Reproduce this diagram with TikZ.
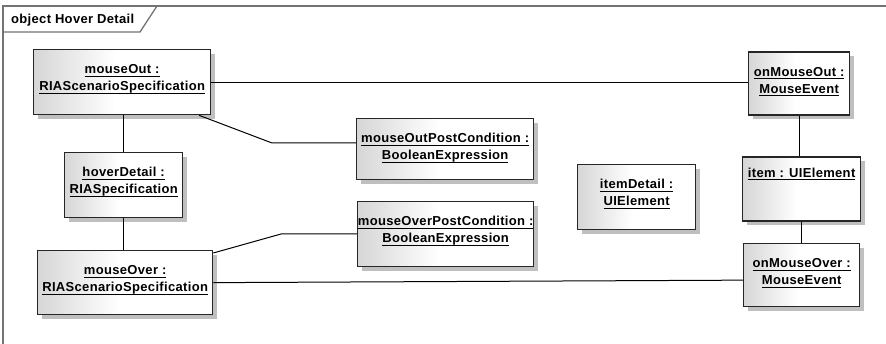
\documentclass[tikz,border=0pt]{standalone}
\usepackage{fontspec}
\setmainfont{Liberation Sans}[LetterSpace=2.5]
\usetikzlibrary{calc,shadows}
\pgfdeclarehorizontalshading{boxshade}{100bp}{color(0bp)=(black!16); color(25bp)=(black!16); color(48bp)=(white); color(100bp)=(white)}
\newcommand\ulx[1]{\setbox0=\hbox{#1}\rlap{\rule[-2.6pt]{\wd0}{1pt}}\box0}
\tikzset{
  obj/.style={draw=black!85, line width=1.3pt, shading=boxshade, rectangle, anchor=north west, inner sep=0pt,
    drop shadow={shadow xshift=4pt, shadow yshift=-4pt, fill=black!25, opacity=1}},
  lbl/.style={anchor=base, inner sep=0pt, font=\fontsize{13}{17}\selectfont\bfseries},
  conn/.style={draw=black, line width=1pt},
  frame/.style={draw=black!55, line width=1.3pt}
}
\newcommand\twoline[2]{\begin{tabular}[t]{@{}c@{}}\ulx{#1}\\\ulx{#2}\end{tabular}}
\begin{document}
\begin{tikzpicture}[x=1pt,y=-1pt]
\useasboundingbox (0,0) rectangle (886,344);
% frame
\draw[frame] (3,350) -- (3,6) -- (890,6);
\draw[frame] (3,32) -- (140,32) -- (157,6);
\node[anchor=base west, inner sep=0pt, font=\fontsize{13}{17}\selectfont\bfseries] (title) at (11,24) {object Hover Detail};
% boxes
\node[obj, minimum width=177, minimum height=65] (mouseOut) at (33,49) {};
\node[obj, minimum width=118, minimum height=65] (hoverDetail) at (64,152) {};
\node[obj, minimum width=175, minimum height=64] (mouseOver) at (37,250) {};
\node[obj, minimum width=177, minimum height=61] (mOPC) at (356,118) {};
\node[obj, minimum width=176, minimum height=65] (mOvPC) at (357,201) {};
\node[obj, minimum width=118, minimum height=65] (itemDetail) at (577,164) {};
\node[obj, minimum width=101, minimum height=63] (onMouseOut) at (748,51.5) {};
\node[obj, minimum width=118, minimum height=64] (item) at (742,156.5) {};
\node[obj, minimum width=116, minimum height=63] (onMouseOver) at (743,243) {};
% labels
\node[lbl] (tMouseOut) at ($(mouseOut.north)+(0,25)$) {\twoline{mouseOut :}{RIAScenarioSpecification}};
\node[lbl] (tHoverDetail) at ($(hoverDetail.north)+(0,25)$) {\twoline{hoverDetail :}{RIASpecification}};
\node[lbl] (tMouseOver) at ($(mouseOver.north)+(0,25)$) {\twoline{mouseOver :}{RIAScenarioSpecification}};
\node[lbl] (tMOPC) at ($(mOPC.north)+(0,25)$) {\twoline{mouseOutPostCondition :}{BooleanExpression}};
\node[lbl] (tMOvPC) at ($(mOvPC.north)+(0,25)$) {\twoline{mouseOverPostCondition :}{BooleanExpression}};
\node[lbl] (tItemDetail) at ($(itemDetail.north)+(0,25)$) {\twoline{itemDetail :}{UIElement}};
\node[lbl] (tOnMouseOut) at ($(onMouseOut.north)+(0,25)$) {\twoline{onMouseOut :}{MouseEvent}};
\node[lbl] (tItem) at ($(item.north)+(0,21)$) {\ulx{item : UIElement}};
\node[lbl] (tOnMouseOver) at ($(onMouseOver.north)+(0,25)$) {\twoline{onMouseOver :}{MouseEvent}};
% connectors
\coordinate (b1) at (272,143);
\coordinate (b2) at (281,234);
\draw[conn] (mouseOut.east) -- (mouseOut.east -| onMouseOut.west);
\draw[conn] (hoverDetail.north |- mouseOut.south) -- (hoverDetail.north);
\draw[conn] (hoverDetail.south) -- (hoverDetail.south |- mouseOver.north);
\draw[conn] ($(mouseOut.south west)+(166,0)$) -- (b1) -- (b1 -| mOPC.west);
\draw[conn] ($(mouseOver.north east)+(0,3)$) -- (b2) -- (b2 -| mOvPC.west);
\draw[conn] (mouseOver.east) -- ($(onMouseOver.west)+(0,5)$);
\draw[conn] (onMouseOut.south) -- (onMouseOut.south |- item.north);
\draw[conn] (item.south) -- (item.south |- onMouseOver.north);
\end{tikzpicture}
\end{document}
